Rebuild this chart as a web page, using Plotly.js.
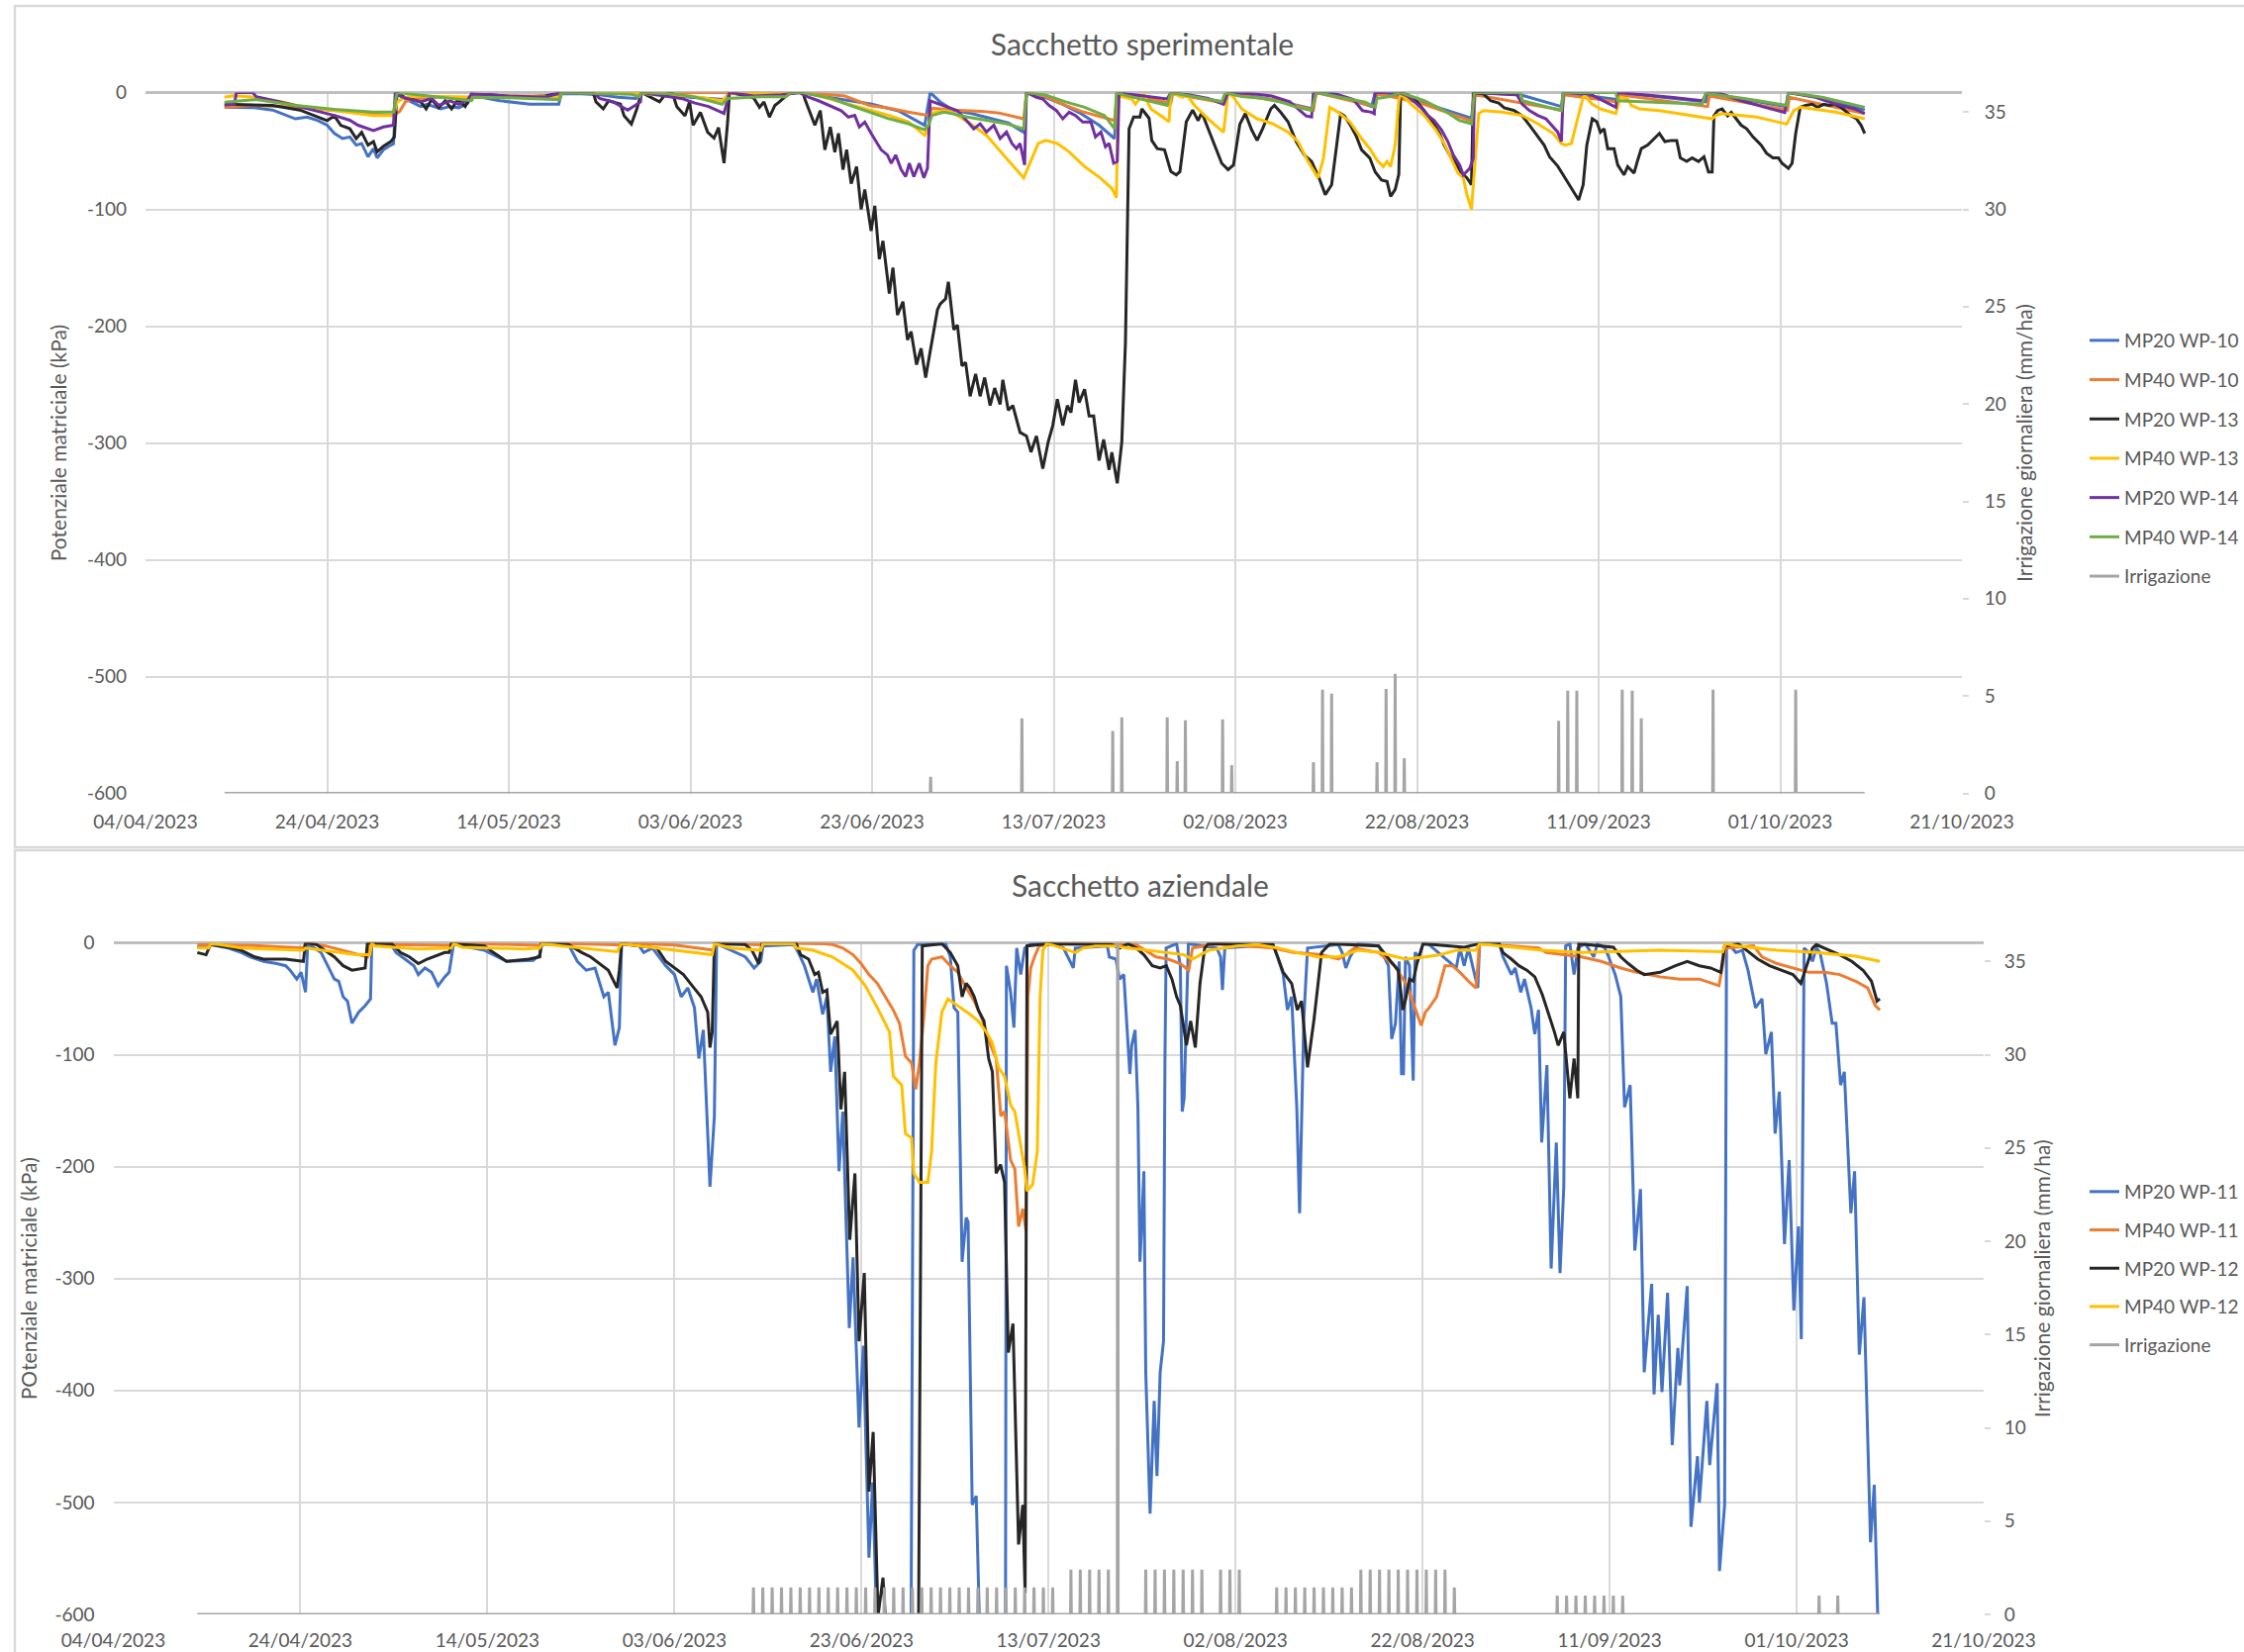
<!DOCTYPE html>
<html>
<head>
<meta charset="utf-8">
<script src="https://cdn.plot.ly/plotly-3.0.1.min.js"></script>
<style>
  html, body { margin: 0; padding: 0; background: #ffffff; }
  #grafico { width: 2267px; height: 1669px; }
</style>
</head>
<body>
<div id="grafico"></div>
<script>
// Tempi espressi in giorni (anche frazionari) a partire dal 04/04/2023 00:00.
// Ogni punto: [giorni, potenziale matriciale kPa].

// ---------------- Sacchetto sperimentale ----------------
const sperim_MP20_WP10 = [[8.7,-12.5],[12,-13],[14,-15],[16.5,-22.5],[17.8,-21],[19,-24],[20,-28],[20.8,-35],[21.7,-39.4],[22.5,-38],[23.2,-45],[23.8,-43.6],[24.5,-55],[25.1,-48],[25.5,-56],[26.2,-49],[26.8,-46],[27.3,-44],[27.6,-1],[28.5,-5],[30.3,-12],[31,-10],[32.5,-14],[33.5,-12],[34.5,-13],[35.5,-9],[35.9,-1],[37,-4],[39,-7],[42.3,-10],[45.5,-10],[45.8,-1],[48,-1],[50,-2],[52,-4],[54,-5],[54.6,0],[57,-2],[60,-4],[63.7,-6],[64.3,0],[67,-3],[70,-2],[72,0],[73,-1],[76,-5],[80,-10],[83,-16],[85.8,-28],[86.4,0],[87.5,-8],[89,-15.4],[91,-18],[93,-22],[95,-26],[96.7,-34],[97,0],[99,-4],[101,-10],[103,-18],[105,-28],[106.7,-39.4],[107,0],[109,-3],[112.5,-10],[112.9,0],[118.7,-8],[119.2,0],[124,-6],[128.5,-14],[128.9,0],[132,-4],[135,-12],[135.4,0],[138,-3],[142,-12],[146,-22],[146.3,0],[151.4,-2],[155.9,-12],[156.1,0],[162,-6],[162.2,0],[167,-4],[171.8,-8],[172,0],[176,-6],[180.7,-12],[180.9,0],[185,-5],[189.3,-15]];

const sperim_MP40_WP10 = [[8.7,-12.6],[12,-11],[16.5,-12.6],[20.8,-15.4],[25.1,-18],[27.3,-19.6],[28,-16],[28.6,-8],[29.4,-5.5],[32,-4],[35.9,-4],[36.2,-3],[40,-3],[45.6,-3],[45.8,0],[72,0],[74,-1],[77,-3],[79.7,-11],[82,-13.5],[84,-16.8],[86.2,-19.6],[86.6,-13.5],[89,-15],[92,-16],[94,-17.5],[96.7,-22.5],[97,0],[99,-3],[101,-10],[103,-16],[105,-20],[106.7,-24],[107,0],[110,-4],[112.9,-9],[113.1,-1],[118.8,-9],[119.1,-1],[124,-6],[128.6,-15],[128.9,0],[135.4,-12],[135.6,-1],[140,-8],[146.2,-25],[146.4,-2],[156,-15],[156.2,-2],[162,-8],[162.3,-2],[172,-12],[172.2,-3],[180.8,-15],[181,-4],[189.3,-18]];

const sperim_MP20_WP13 = [[8.7,-10],[14,-11],[17,-15],[20,-24],[20.8,-20],[21.5,-28],[22.5,-31],[23.2,-39.4],[23.8,-34],[24.5,-45],[25.1,-42],[25.5,-50.7],[26.2,-46],[27,-42],[27.4,-38],[27.7,0],[28.5,-4],[30.3,-8],[30.9,-14],[31.5,-6],[32.3,-13],[33,-7],[33.7,-14],[34.4,-6],[35.2,-12],[35.9,-2],[38,-2],[41,-4],[44,-3],[45.8,0],[49.3,0],[49.6,-8],[50.4,-14],[51,-7],[52.3,-10],[52.7,-20],[53.5,-27],[54.1,-14],[54.6,0],[56.6,-8],[57.2,-2],[58,0],[58.5,-12],[59.4,-20],[59.9,-8],[60.3,-28],[61.1,-17],[61.9,-34],[62.6,-39],[63.1,-30],[63.7,-60.5],[64.1,-25],[64.3,0],[66.4,-3],[67,-5],[67.6,-12.6],[68.1,-8],[68.7,-21],[69.3,-11],[69.8,-8],[70.5,-3],[71,0],[72.4,0],[72.6,-5.5],[73.7,-28],[74.3,-15.4],[74.8,-49],[75.4,-29.5],[75.9,-51],[76.3,-35],[76.8,-66],[77.2,-49],[77.7,-78],[78.3,-63.4],[78.8,-100],[79.2,-83],[79.9,-118.5],[80.3,-97],[80.8,-142.6],[81.2,-127],[81.9,-172],[82.3,-150],[82.8,-190.5],[83.4,-179],[83.9,-211.7],[84.3,-204.7],[84.9,-233],[85.4,-219],[85.9,-244],[87.2,-186],[87.5,-181],[88.1,-176.5],[88.4,-162],[89,-203],[89.4,-199],[89.9,-234],[90.3,-231],[90.8,-260],[91.4,-241],[91.9,-260],[92.4,-244],[93,-268],[93.5,-253],[94.1,-267],[94.4,-246],[95,-272],[95.5,-268],[96.3,-291],[97,-294],[97.5,-307.8],[98.1,-294],[98.8,-322],[99.4,-299],[99.9,-285],[100.4,-262.6],[101,-285],[101.5,-268],[101.9,-274],[102.4,-246],[102.8,-265.4],[103.4,-254],[103.9,-277],[104.4,-277],[105,-315],[105.5,-297],[106.1,-323],[106.4,-308],[107,-334.6],[107.5,-299],[107.9,-214],[108.3,-31],[108.8,-21],[109.5,-21],[109.7,-14],[110.5,-22],[110.8,-41],[111.4,-48],[112.2,-49],[112.9,-67.7],[113.5,-70.5],[113.9,-67.7],[114.6,-25],[115.3,-15],[115.9,-24],[116.3,-17],[117.2,-35],[117.9,-49],[118.5,-60.6],[119.2,-66],[119.8,-62],[120.5,-27],[121.1,-18],[121.8,-32],[122.4,-41],[123,-31],[123.9,-14],[124.3,-11],[125,-17],[125.8,-25],[126.7,-42],[127.6,-53.5],[128.4,-59],[129.3,-74.7],[129.9,-87.4],[130.6,-79],[131.2,-42],[131.6,-18],[132,-20],[132.6,-27],[133.3,-37],[133.9,-49],[134.8,-56],[135.4,-68],[136.1,-75],[136.7,-76],[137.1,-89],[137.6,-83],[138,-70],[138.2,0],[139,-2],[140,-8],[140.8,-15.4],[141.7,-25],[142.5,-35],[143,-45],[143.6,-53.5],[144.3,-60.6],[144.9,-69],[145.5,-73],[146,-79],[146.2,0],[147.3,-1],[147.7,-4],[148.1,-7],[149,-9],[149.6,-13],[150.7,-15.4],[151.6,-20],[152.4,-28],[153.3,-38],[154,-45],[154.6,-55],[155.5,-63],[156.1,-70.5],[156.8,-79],[157.4,-86],[157.8,-92],[158.3,-79],[158.7,-45],[159.3,-22.5],[159.8,-25],[160.2,-34],[160.6,-31],[161,-48],[161.7,-48],[162.1,-62],[162.8,-70.5],[163.2,-63.4],[163.9,-69],[164.3,-58],[164.7,-48],[165.4,-45],[165.8,-42],[166.7,-35],[167.3,-42],[168,-41],[168.6,-41],[169,-56],[169.7,-59],[170.3,-56],[171,-59],[171.6,-55],[172.1,-68],[172.5,-68],[172.7,-20],[173.1,-15.4],[173.6,-14],[174.2,-20],[174.6,-17],[175,-21],[175.7,-28],[176.3,-31],[177,-38],[177.9,-45],[178.5,-52],[179.2,-56],[179.8,-56],[180.2,-60.6],[180.9,-65],[181.3,-60.6],[181.7,-35],[182.2,-12.6],[182.8,-11],[183.5,-10],[184.1,-12.6],[184.8,-10],[185.4,-11],[186,-10],[186.7,-12.6],[187.1,-15.4],[187.8,-20],[188.4,-22.5],[188.9,-28],[189.3,-35]];

const sperim_MP40_WP13 = [[8.7,-4],[9.6,-2.7],[12.2,-4],[15.2,-8.3],[16.5,-11],[20.8,-15.4],[25.1,-19.6],[27.3,-19.6],[27.7,-8.3],[28.5,-4],[30,-3],[35.9,-4],[40,-3],[45.6,-4],[45.8,0],[54,0],[56,-2],[60,-3],[63.5,-7],[64.3,-1],[72,0],[73.3,-1],[77.6,-10],[81.9,-19.6],[84,-25],[85.8,-36.6],[86.2,-31],[86.4,-18],[87.9,-15.4],[88.8,-16.8],[90.5,-25],[92.6,-36.6],[94.8,-56.4],[96.7,-73],[97.4,-60],[98.3,-43.6],[99.1,-41],[100.4,-43.6],[101.7,-50.7],[103.4,-63.4],[105.1,-73],[106.4,-82],[106.9,-90],[107.1,-2.7],[108.6,-5.5],[109,-10],[109.9,-1.3],[110.7,-14],[112,-21],[112.7,-25],[112.9,0],[114.2,-4],[114.6,-1.3],[115.5,-11],[117.2,-24],[118.7,-34],[119.2,0],[119.8,-4],[120.7,-14],[122.4,-22.5],[124.1,-26.7],[125.8,-33.8],[126.9,-42],[128,-59],[129.1,-73],[129.7,-56.4],[130.4,-12.6],[131.3,-16.8],[132.6,-25],[133.9,-39.4],[134.8,-48],[135.6,-57.8],[136.3,-63.4],[136.7,-59],[137.1,-63.4],[137.6,-45],[138,-7],[138.2,-1.3],[138.6,-4],[139.5,-11],[140.8,-19.6],[142.1,-32.3],[143,-43.6],[143.8,-56.4],[144.5,-69],[145.1,-73],[145.5,-87.4],[146,-100],[146.4,-62],[146.8,-18],[147.3,-15.4],[149.4,-16.8],[151.6,-19.6],[153.3,-26.7],[155,-35],[155.9,-43.6],[156.3,-45],[157,-43.6],[157.6,-25],[158.3,-4],[158.5,-2.7],[159.3,-10],[160.2,-14],[161.9,-18],[162.4,-4],[163.2,-5.5],[163.6,-11],[164.5,-14],[166.7,-15.4],[168.8,-18],[171,-21],[172.5,-22.5],[172.9,-19.6],[173.6,-18],[177.4,-21],[180.7,-27],[181.5,-15.4],[182.2,-12.6],[186.1,-16.8],[189.3,-22.5]];

const sperim_MP20_WP14 = [[8.7,-10.6],[9.8,-10],[10,0],[11.8,0],[12.2,-3.5],[16.5,-11],[18.6,-15.4],[20.8,-19.6],[22.5,-23.7],[23.4,-28],[25.1,-32.5],[26.2,-29.5],[27.3,-28],[27.5,0],[28.3,-4],[30.3,-8],[31.5,-5],[32.3,-11],[33.5,-7],[34.5,-10],[35.5,-6],[35.9,-1],[40,-3],[44,-4],[45.8,0],[49.3,0],[50,-5],[51.5,-8],[53.1,-15],[54.5,-8],[54.6,0],[57,-3],[59,-5],[60.5,-9],[62,-12],[63.7,-18],[64.3,0],[67,-3],[70,-2],[72,0],[73,-4],[74.1,-7],[75.2,-11],[76.6,-15.5],[77.4,-21],[78.1,-19.6],[78.6,-29.5],[79.2,-25.3],[79.9,-35],[80.4,-41],[81,-49],[81.7,-53.5],[82.1,-60.6],[82.6,-53.5],[83.2,-66],[83.7,-72],[84.1,-60.6],[84.6,-72],[85.2,-60.6],[85.7,-73],[86.1,-64.8],[86.4,-7],[88.3,-12.6],[89.4,-15.5],[90.4,-23.9],[91.2,-31],[91.9,-26.7],[92.6,-33.8],[93.4,-28],[94.1,-39.4],[94.8,-33.8],[95.4,-43.6],[95.9,-48],[96.3,-43.6],[96.8,-62],[97,0],[98.1,-4],[98.8,-5.5],[99.5,-11],[100.3,-15.4],[101,-22.5],[101.7,-16.8],[102.4,-19.6],[103.2,-25.3],[104.1,-25.3],[104.6,-38],[105.2,-33.8],[105.7,-46.5],[106.1,-43.6],[106.6,-60.5],[107,-59],[107.2,0],[108,-1],[110,-3],[112.5,-5.5],[112.9,0],[115,-2],[117,-5],[118.7,-10],[119.2,0],[122,-1],[124,-3],[126,-8],[127.8,-20],[128.4,-21],[128.6,0],[131,-1],[133,-6],[134,-15.5],[135,-16.8],[135.3,-18],[135.4,0],[138,0],[139,-3],[140.4,-12.6],[141.2,-19.6],[141.9,-24],[142.7,-32],[143.4,-42],[144,-53.5],[144.7,-62],[145.1,-70.5],[145.8,-65],[146.2,-56.4],[146.3,0],[151,-2],[151.6,-10],[152.4,-15.5],[153.3,-19.6],[154.2,-22.5],[154.8,-28],[155.5,-33.8],[155.9,-42],[156.1,0],[159,-1],[161.9,-12.6],[162.1,0],[165,-2],[168,-4],[171.4,-7],[172,0],[173.1,0],[175.7,-7],[178.3,-12.6],[180.5,-17],[180.9,0],[183.9,-4],[186.1,-10],[188.2,-14],[189.3,-18]];

const sperim_MP40_WP14 = [[8.7,-8.3],[12.2,-6],[16.5,-11],[20.8,-14.4],[25.1,-16.8],[27.3,-16.8],[27.7,0],[30,-2],[33.7,-4.8],[35.9,-7],[36.1,-4],[40,-4.5],[45.6,-6],[45.7,0],[53.5,-1.5],[54.4,-3.5],[54.6,0],[58,-1],[60.3,-3.5],[63.5,-10],[64.1,-5],[66,-4],[68,-3.5],[70.5,-3.5],[71.1,0],[72.4,0],[75.4,-4.8],[77.6,-11],[79.7,-16.8],[81.9,-22.5],[84,-26.7],[85.8,-32],[86.2,-28],[86.6,-19.6],[87.9,-16.8],[88.8,-18],[90.5,-21],[92.6,-24],[94.8,-26.7],[96.7,-31],[97,0],[99.1,-2],[101.3,-8],[103.4,-12.6],[105.6,-19.6],[106.7,-31],[106.9,0],[107.7,-2],[109.9,-6.4],[112.5,-11],[112.9,0],[118.5,-7.9],[118.9,0],[120.7,-3.5],[122.8,-4.8],[124.9,-7.9],[126.6,-12.2],[128.4,-15.5],[128.9,0],[132.6,-5.5],[134.3,-8.3],[135.4,-12.6],[135.6,-5],[137,-3.5],[138.2,0],[140.8,-7],[143,-15.5],[144.7,-24],[146,-26.7],[146.3,0],[151.4,0],[151.6,-7],[153.7,-11],[155.9,-15.5],[156.1,0],[161.9,0],[162.1,-7],[166.7,-8.3],[171.4,-10],[171.8,0],[172.2,-1],[176,-5],[180.7,-11],[180.9,0],[184.6,-4],[189.3,-12.6]];

// Irrigazione (mm/ha): periodo registrato, giorni di intervento e quantità
const sperim_periodo = [8.7, 189.3];
const sperim_irrig_giorni = [86.45,96.5,106.5,107.5,112.5,113.6,114.5,118.6,119.6,128.6,129.6,130.6,135.6,136.6,137.6,138.6,155.6,156.6,157.6,162.6,163.7,164.7,172.6,181.7];
const sperim_irrig_mm     = [0.85,3.85,3.2,3.9,3.9,1.65,3.75,3.8,1.45,1.6,5.33,5.12,1.6,5.36,6.14,1.8,3.72,5.28,5.28,5.33,5.28,3.85,5.33,5.33];

// ---------------- Sacchetto aziendale ----------------
const azienda_MP20_WP11 = [[8.98,-3.9],[10.39,-1.6],[12.28,-4.7],[13.7,-8.7],[14.65,-12.6],[16.06,-16.6],[17.48,-18.6],[18.43,-20.5],[18.9,-24.5],[19.61,-32.4],[20.08,-26.4],[20.55,-44.2],[20.79,-0.8],[22.21,-8.7],[22.92,-20.5],[23.63,-32.4],[24.1,-34.3],[24.57,-48.2],[25.04,-52.1],[25.52,-71.8],[26.23,-62],[26.93,-56.1],[27.5,-50.1],[27.64,-0.8],[29.77,-2.8],[30.24,-8.7],[31.19,-14.6],[32.14,-20.5],[32.61,-28.4],[33.32,-22.5],[34.03,-26.4],[34.73,-38.3],[35.44,-30.4],[35.91,-26.4],[36.39,-0.8],[37.33,-2.8],[39.69,-6.7],[40.17,-8.7],[42.06,-16.6],[44.89,-15.8],[45.6,-10.7],[45.84,-0.8],[48.67,-1.6],[49.62,-16.6],[50.56,-24.5],[51.51,-22.5],[52.45,-48.2],[52.93,-44.2],[53.64,-91.6],[54.11,-75.8],[54.35,-0.8],[56.23,-2.8],[56.71,-8.7],[57.65,-4.7],[59.07,-20.5],[60.01,-28.4],[60.72,-48.2],[61.43,-40.3],[62.14,-58],[62.61,-103.4],[63.09,-77.8],[63.8,-218],[64.27,-155],[64.51,-0.8],[67.58,-12.6],[68.52,-22.5],[69.23,-16.6],[69.47,-2.8],[72.77,-1.6],[73.25,-8.7],[73.9,-20.5],[74.8,-44.2],[75.2,-32.4],[75.85,-63.9],[76.3,-48.2],[76.7,-115.3],[77.15,-83.7],[77.6,-204.1],[78.0,-150.8],[78.7,-344.2],[79.1,-281],[79.74,-433],[80.2,-360],[80.8,-549.4],[81.2,-482],[81.6,-601.6],[83.5,-660],[85.3,-620],[85.6,-6.7],[86.0,-1.6],[89.0,-0.8],[89.5,-12.6],[89.9,-58],[90.3,-62],[90.55,-172.5],[90.76,-285],[91.2,-245.5],[91.4,-249.5],[91.84,-502.1],[92.27,-494.2],[92.6,-601.6],[94,-660],[95.4,-620],[95.5,-20.5],[95.95,-44.2],[96.3,-75.8],[96.6,-4.7],[97.03,-28.4],[97.46,-4.7],[98.1,-0.8],[100.3,-0.8],[101.6,-4.7],[102.65,-22.5],[102.86,-4.7],[106.3,-2.8],[106.5,-12.6],[107.2,-14.6],[107.6,-32.4],[108.05,-28.4],[108.7,-117.2],[108.9,-91.6],[109.26,-77.8],[109.56,-147],[109.78,-285],[110.0,-245.5],[110.2,-204.1],[110.4,-383.7],[110.86,-510],[111.3,-409.3],[111.6,-476.4],[111.94,-383.7],[112.3,-356],[112.45,-107.4],[112.58,-4.7],[113.7,-0.8],[114.1,-20.5],[114.3,-150.8],[114.5,-139],[114.96,-0.8],[118.0,-4.7],[118.4,-12.6],[118.6,-42.2],[118.85,-4.7],[124.0,-1.6],[124.5,-12.6],[125.1,-28.4],[125.55,-60],[126.0,-48.2],[126.55,-147],[126.85,-241.6],[127.3,-67.9],[127.7,-4.7],[131.0,-1.6],[131.4,-8.7],[131.8,-22.5],[132.25,-12.6],[133.1,-0.8],[135.3,-2.8],[136.35,-20.5],[136.7,-86],[137.1,-72],[137.5,-16.6],[137.75,-117],[137.96,-117],[138.17,-12.6],[138.6,-20.5],[139.0,-123.2],[139.2,-8.7],[139.6,-12.6],[140.06,-0.8],[140.7,-1.6],[143.6,-22.5],[144.0,-4.7],[144.45,-20.5],[144.9,-4.7],[145.9,-40.3],[146.1,-0.8],[148.2,-0.8],[148.6,-12.6],[149.5,-28.4],[149.9,-22.5],[150.5,-44.2],[150.9,-32.4],[151.6,-58],[152.0,-81.7],[152.4,-60],[152.74,-178.4],[153.3,-109.3],[153.75,-291],[154.3,-178.4],[154.7,-295],[155.1,-218],[155.3,-2.8],[155.75,-0.8],[156.2,-28.4],[156.6,-4.7],[157.4,-0.8],[158.3,-12.6],[158.7,-0.8],[159.5,-4.7],[159.9,-12.6],[160.6,-28.4],[161.2,-48.2],[161.6,-147],[162.2,-127.1],[162.7,-275],[163.3,-220],[163.7,-383.7],[164.5,-304.7],[164.75,-403.4],[165.2,-332.4],[165.6,-401.4],[166.2,-312.6],[166.7,-448.8],[167.3,-362],[167.5,-395.5],[168.3,-306.7],[168.7,-521.8],[169.4,-458.7],[169.6,-500.1],[170.4,-409.3],[170.7,-466.6],[171.5,-393.5],[171.75,-561.3],[172.3,-502.1],[172.5,-4.7],[172.9,-2.8],[173.5,-8.7],[174.2,-6.7],[174.8,-24.5],[175.6,-58],[176.3,-50.1],[176.7,-99.5],[177.3,-79.7],[177.7,-170.5],[178.15,-133],[178.7,-269.2],[179.2,-194.2],[179.7,-328.4],[180.2,-253.4],[180.5,-354.1],[180.8,-4.7],[181.3,-8.7],[181.7,-16.6],[182.1,-4.7],[182.5,-8.7],[183.2,-36.3],[183.8,-71.8],[184.2,-71.8],[184.7,-127.1],[185.1,-115.3],[185.8,-241.6],[186.2,-204.1],[186.7,-367.9],[187.2,-316.6],[187.9,-535.6],[188.3,-484.3],[188.7,-610]];

const azienda_MP40_WP11 = [[8.98,-1.6],[15,-2.5],[20.32,-4.7],[20.55,0],[22.68,-2.8],[24.57,-6.7],[27.17,-12.6],[27.3,0],[30,-1.5],[36,-2.5],[36.2,0],[45.7,-2.5],[45.8,0],[54.3,-2],[54.4,0],[60,-2],[64.27,-6.7],[64.4,0],[69.4,-2],[69.5,0],[76.07,-0.8],[76.9,-1.6],[78.0,-4.7],[79.1,-10.7],[79.96,-18.6],[80.8,-28.4],[81.7,-36.3],[82.55,-48.2],[83.4,-60],[84.06,-71.8],[84.7,-101.4],[85.36,-107.4],[85.8,-131],[86.2,-107.4],[86.65,-67.9],[87.1,-20.5],[87.5,-14.6],[88.6,-12.6],[89.5,-20.5],[90.3,-26.4],[91.2,-40.3],[92.06,-52.1],[92.9,-67.9],[93.8,-91.6],[94.4,-103.4],[94.9,-154.7],[95.3,-150.8],[95.95,-194.2],[96.4,-202.1],[96.8,-253.4],[97.25,-237.6],[97.6,-257.4],[97.8,-48.2],[98.1,-22.5],[98.5,-12.6],[99.0,-2.8],[100.7,-0.8],[109.35,-1.6],[111.5,-12.6],[112.8,-14.6],[114.1,-18.6],[115.0,-24.5],[115.4,-4.7],[118.0,-0.8],[124.0,-4.7],[126.2,-8.7],[129.2,-10.7],[131.0,-14.6],[131.8,-10.7],[132.7,-4.7],[135.3,-8.7],[137.0,-20.5],[138.2,-36.3],[138.6,-44.2],[139.85,-73.8],[140.3,-62],[140.7,-58],[141.5,-48.2],[142.4,-20.5],[143.2,-20.5],[144.0,-26.4],[144.9,-34.3],[145.7,-40.3],[146.1,-0.8],[152.4,-4.7],[153.2,-8.7],[154.9,-10.7],[157.0,-12.6],[159.1,-16.6],[161.2,-22.5],[162.9,-26.4],[165.4,-30.4],[167.5,-32.4],[169.6,-32.4],[171.7,-38.3],[172.4,-4.7],[175.4,-2.8],[176.3,-12.6],[177.9,-18.6],[179.6,-22.5],[181.3,-26.4],[183.0,-26.4],[184.6,-28.4],[186.3,-34.3],[187.6,-40.3],[188.4,-56.1],[188.9,-60]];

const azienda_MP20_WP12 = [[8.98,-8.7],[9.92,-10.7],[10.39,-1.6],[12.28,-3.9],[13.7,-6.7],[15.12,-12.6],[16.06,-14.6],[18.43,-14.6],[20.32,-16.6],[20.55,0],[21.74,-1.6],[22.68,-6.7],[23.63,-12.6],[24.57,-20.5],[25.52,-24.5],[26.93,-22.5],[27.17,0],[29.77,-0.8],[30.71,-8.7],[31.66,-12.6],[32.61,-18.6],[33.55,-14.6],[35.44,-8.7],[35.91,-8.7],[36.15,-0.8],[39.69,-2.8],[40.64,-8.7],[42.06,-16.6],[44.42,-14.6],[45.6,-12.6],[45.74,-0.8],[48.67,-1.6],[50.09,-8.7],[51.04,-12.6],[51.98,-18.6],[52.93,-24.5],[53.87,-40.3],[54.11,-24.5],[54.35,-0.8],[58.12,-4.7],[59.07,-16.6],[60.01,-22.5],[60.96,-28.4],[61.9,-38.3],[62.85,-48.2],[63.56,-62],[63.8,-93.6],[64.04,-79.7],[64.27,-0.8],[67.58,-1.6],[68.29,-6.7],[69,-18.6],[69.37,-0.8],[73.04,-0.8],[73.5,-10.7],[74.34,-14.6],[75.0,-28.4],[75.4,-26.4],[75.85,-44.2],[76.3,-42.2],[76.7,-81.7],[77.4,-69.9],[77.8,-148.8],[78.2,-115.3],[78.75,-265.3],[79.3,-206],[79.74,-356],[80.3,-295],[80.8,-490.3],[81.25,-437],[81.77,-601.6],[82.3,-567.2],[82.55,-601.6],[84,-660],[86.1,-620],[86.5,-2.8],[88.6,-0.8],[89.5,-8.7],[90.3,-20.5],[90.76,-48.2],[91.2,-36.3],[91.6,-40.3],[92.06,-48.2],[92.5,-60],[93.1,-69.9],[93.6,-103.4],[94.0,-115.3],[94.4,-206],[94.87,-198.2],[95.3,-214],[95.7,-366],[96.2,-340.3],[96.8,-537.6],[97.25,-502.1],[97.5,-581],[97.7,-2.8],[99.8,-0.8],[106.75,-1.6],[107.6,-4.7],[108.5,-0.8],[109.4,-4.7],[110.2,-10.7],[111.1,-20.5],[111.95,-22.5],[112.6,-20.5],[113.2,-32.4],[113.7,-48.2],[114.1,-56.1],[114.75,-91.6],[115.2,-69.9],[115.7,-93.6],[116.2,-36.3],[116.7,-4.7],[117.1,-0.8],[124.0,-1.6],[124.5,-12.6],[125.1,-26.4],[126.0,-36.3],[126.6,-60],[127.06,-52.1],[127.7,-111.3],[128.4,-67.9],[128.8,-40.3],[129.2,-8.7],[130.1,-0.8],[135.3,-2.8],[136.6,-16.6],[137.4,-24.5],[137.9,-60],[138.2,-50.1],[138.6,-32.4],[139.0,-34.3],[139.4,-18.6],[140.06,-0.8],[144.45,-3.9],[146.1,-0.8],[148.2,-0.8],[148.6,-8.7],[149.5,-14.6],[150.3,-20.5],[151.15,-24.5],[152.0,-30.4],[152.8,-46.2],[153.66,-67.9],[154.1,-79.7],[154.5,-91.6],[155.1,-79.7],[155.75,-139],[156.2,-103.4],[156.6,-139],[156.7,-0.8],[160.4,-3.9],[161.2,-12.6],[162.0,-18.6],[162.9,-24.5],[163.7,-28.4],[165.4,-26.4],[167.05,-20.5],[168.3,-16.6],[169.6,-20.5],[170.8,-22.5],[171.9,-26.4],[172.3,-2.8],[173.75,-0.8],[174.6,-6.7],[175.85,-14.6],[177.1,-20.5],[178.35,-24.5],[179.6,-28.4],[180.45,-36.3],[181.1,-20.5],[181.7,-4.7],[182.1,-1.6],[183.4,-6.7],[184.6,-10.7],[185.9,-16.6],[187.1,-24.5],[188.0,-34.3],[188.6,-52.1],[188.9,-50.1]];

const azienda_MP40_WP12 = [[8.98,-4.7],[10.2,-4.7],[10.39,-0.8],[11.34,-1.6],[13.7,-4.7],[16.06,-5.5],[20.32,-6.7],[20.55,-4.7],[22.21,-6.7],[24.1,-8.7],[25.99,-10.7],[27.41,-10.7],[27.64,-0.8],[28,-2.8],[32.61,-5.5],[36.15,-4.7],[36.39,-0.8],[37.33,-3.9],[44,-5.5],[45.6,-4.7],[45.84,-0.8],[48,-2.8],[53.87,-7.9],[54.35,-0.8],[56.23,-2.8],[60,-6.7],[64.04,-10.7],[64.27,-0.8],[66,-4.7],[69.23,-6.7],[69.47,-0.8],[72.77,-0.8],[73.04,-4.7],[74.8,-6.7],[76.9,-12.6],[79.1,-24.5],[80.4,-38.3],[81.7,-58],[83.0,-79.7],[83.4,-119.2],[84.3,-127.1],[84.7,-170.5],[85.36,-174.5],[85.6,-206],[86.2,-214],[87.1,-214],[87.5,-186.3],[87.95,-107.4],[88.6,-62],[89.25,-50.1],[90.3,-56.1],[91.6,-63.9],[92.5,-69.9],[93.35,-79.7],[94.0,-89.6],[94.65,-111.3],[95.3,-119.2],[95.95,-145],[96.4,-150.8],[97.03,-182.4],[97.46,-202.1],[97.7,-221.8],[98.3,-216],[98.8,-186.3],[99.1,-48.2],[99.4,-6.7],[99.8,-0.8],[100.7,-2.8],[102.9,-8.7],[103.7,-4.7],[105.0,-2.8],[107.2,-2.8],[108.5,-4.7],[110.6,-6.7],[112.8,-8.7],[114.5,-10.7],[115.4,-14.6],[116.3,-10.7],[117.1,-6.7],[118.8,-4.7],[120.1,-2.8],[122.3,-1.6],[124.5,-4.7],[126.6,-8.7],[128.8,-12.6],[131.0,-12.6],[133.1,-6.7],[135.3,-8.7],[137.4,-12.6],[138.2,-14.6],[140.3,-12.6],[141.9,-10.7],[143.6,-6.7],[145.7,-6.7],[146.1,-0.8],[148.6,-2.8],[152.8,-6.7],[157.0,-8.7],[161.2,-7.9],[165.4,-6.7],[172.1,-7.9],[172.4,-0.8],[173.75,-2.8],[177.9,-6.7],[182.1,-8.7],[186.3,-11.9],[188.9,-16.6]];

const azienda_periodo = [8.98, 188.9];
const azienda_irrig_giorni = [68.45,69.45,70.45,71.45,72.45,73.45,74.45,75.45,76.45,77.45,78.45,79.45,80.45,81.45,82.45,83.45,84.45,85.45,86.45,87.45,88.45,89.45,90.45,91.45,92.45,93.45,94.45,95.45,96.45,97.45,98.45,99.45,100.45,
  102.4,103.4,104.4,105.4,106.4,107.4,110.4,111.4,112.4,113.4,114.4,115.4,116.4,118.4,119.4,120.4,
  124.4,125.4,126.4,127.4,128.4,129.4,130.4,131.4,132.4,
  133.4,134.4,135.4,136.4,137.4,138.4,139.4,140.4,141.4,142.4,143.4,
  154.4,155.4,156.4,157.4,158.4,159.4,160.4,161.4,182.4,184.4];
const azienda_irrig_mm = [1.45,1.45,1.45,1.45,1.45,1.45,1.45,1.45,1.45,1.45,1.45,1.45,1.45,1.45,1.45,1.45,1.45,1.45,1.45,1.45,1.45,1.45,1.45,1.45,1.45,1.45,1.45,1.45,1.45,1.45,1.45,1.45,1.45,
  2.4,2.4,2.4,2.4,2.4,60,2.4,2.4,2.4,2.4,2.4,2.4,2.4,2.4,2.4,2.4,
  1.45,1.45,1.45,1.45,1.45,1.45,1.45,1.45,1.45,
  2.4,2.4,2.4,2.4,2.4,2.4,2.4,2.4,2.4,2.4,1.45,
  1.0,1.0,1.0,1.0,1.0,1.0,1.0,1.0,1.0,1.0];

// ---------------- Costruzione del grafico ----------------
const GIORNO = 86400000;
const ORA = 3600000;
const T0 = Date.UTC(2023, 3, 4);
const istante = g => T0 + g * GIORNO;

const W = 2267, H = 1669;
const fx = p => p / W;          // pixel orizzontale -> frazione della pagina
const fy = p => 1 - p / H;      // pixel verticale -> frazione della pagina

const FONT = 'Lato, "Open Sans", sans-serif';
const GRIGIO_TESTO = '#595959';
const GRIGIO_GRIGLIA = '#d9d9d9';

const COL = { blu: '#4472c4', arancio: '#ed7d31', nero: '#262626', giallo: '#ffc000', viola: '#7030a0', verde: '#70ad47', irrig: '#a5a5a5' };

let gruppo = 0;
function sensore(punti, nome, colore, xa, ya, leg) {
  gruppo++;
  return {
    type: 'scatter', mode: 'lines', name: nome,
    x: punti.map(p => istante(p[0])), y: punti.map(p => p[1]),
    line: { color: colore, width: 3 },
    xaxis: xa, yaxis: ya, legend: leg, legendgroup: 'g' + gruppo
  };
}

// Serie oraria dell'irrigazione: zero salvo l'ora dell'intervento
function irrigazione(periodo, giorni, mm, xa, ya, leg) {
  gruppo++;
  const x = [istante(periodo[0])], y = [0];
  giorni.forEach((g, i) => {
    const t = istante(g);
    x.push(t - ORA, t, t + ORA);
    y.push(0, mm[i], 0);
  });
  x.push(istante(periodo[1])); y.push(0);
  return {
    type: 'scatter', mode: 'lines', name: 'Irrigazione', x, y,
    line: { color: COL.irrig, width: 3 },
    xaxis: xa, yaxis: ya, legend: leg, legendgroup: 'g' + gruppo
  };
}

const traces = [
  sensore(sperim_MP20_WP10, 'MP20 WP-10', COL.blu, 'x', 'y', 'legend'),
  sensore(sperim_MP40_WP10, 'MP40 WP-10', COL.arancio, 'x', 'y', 'legend'),
  sensore(sperim_MP20_WP13, 'MP20 WP-13', COL.nero, 'x', 'y', 'legend'),
  sensore(sperim_MP40_WP13, 'MP40 WP-13', COL.giallo, 'x', 'y', 'legend'),
  sensore(sperim_MP20_WP14, 'MP20 WP-14', COL.viola, 'x', 'y', 'legend'),
  sensore(sperim_MP40_WP14, 'MP40 WP-14', COL.verde, 'x', 'y', 'legend'),
  irrigazione(sperim_periodo, sperim_irrig_giorni, sperim_irrig_mm, 'x', 'y2', 'legend'),
  sensore(azienda_MP20_WP11, 'MP20 WP-11', COL.blu, 'x2', 'y3', 'legend2'),
  sensore(azienda_MP40_WP11, 'MP40 WP-11', COL.arancio, 'x2', 'y3', 'legend2'),
  sensore(azienda_MP20_WP12, 'MP20 WP-12', COL.nero, 'x2', 'y3', 'legend2'),
  sensore(azienda_MP40_WP12, 'MP40 WP-12', COL.giallo, 'x2', 'y3', 'legend2'),
  irrigazione(azienda_periodo, azienda_irrig_giorni, azienda_irrig_mm, 'x2', 'y4', 'legend2')
];

const tickFont = { family: FONT, size: 19, color: GRIGIO_TESTO };
const titoloAsse = { family: FONT, size: 21, color: GRIGIO_TESTO };
const kpaVals = [-600, -500, -400, -300, -200, -100, 0];
const kpaText = ['-600', '-500', '-400', '-300', '-200', '-100', '0'];
const mmVals = [0, 5, 10, 15, 20, 25, 30, 35];

function asseDate(dominio, ancora, standoff) {
  return {
    domain: dominio, anchor: ancora, type: 'date',
    range: ['2023-04-04', '2023-10-21'],
    tick0: '2023-04-04', dtick: 20 * GIORNO, tickformat: '%d/%m/%Y',
    showgrid: true, gridcolor: GRIGIO_GRIGLIA, gridwidth: 2,
    zeroline: false, showline: false, ticks: '',
    ticklabelstandoff: standoff, tickfont: tickFont, automargin: false
  };
}
function asseKpa(dominio, ancora, titolo, standoff, labStand) {
  return {
    domain: dominio, anchor: ancora, range: [-600, 0],
    tickmode: 'array', tickvals: kpaVals, ticktext: kpaText,
    showgrid: true, gridcolor: GRIGIO_GRIGLIA, gridwidth: 2,
    // asse orizzontale che incrocia lo zero
    zeroline: true, zerolinecolor: '#bfbfbf', zerolinewidth: 3,
    showline: false, ticks: '', automargin: false,
    ticklabelstandoff: labStand, tickfont: tickFont,
    title: { text: titolo, font: titoloAsse, standoff: standoff }
  };
}
function asseMm(sovrapposto, ancora, standoff, labStand) {
  return {
    overlaying: sovrapposto, side: 'right', anchor: ancora, range: [0, 36],
    tickmode: 'array', tickvals: mmVals,
    showgrid: false, zeroline: false, showline: false, automargin: false,
    ticks: 'outside', ticklen: 6, tickwidth: 2, tickcolor: GRIGIO_GRIGLIA,
    ticklabelstandoff: labStand, tickfont: tickFont,
    title: { text: 'Irrigazione giornaliera (mm/ha)', font: titoloAsse, standoff: standoff }
  };
}

const legenda = (xLeft, yTop, gap) => ({
  x: fx(xLeft), xanchor: 'left', y: fy(yTop), yanchor: 'top',
  font: { family: FONT, size: 19, color: GRIGIO_TESTO },
  bgcolor: 'rgba(0,0,0,0)', borderwidth: 0,
  traceorder: 'grouped', tracegroupgap: gap
});

const layout = {
  width: W, height: H,
  margin: { l: 0, r: 0, t: 0, b: 0, autoexpand: false },
  paper_bgcolor: '#ffffff', plot_bgcolor: 'rgba(0,0,0,0)',
  font: { family: FONT, color: GRIGIO_TESTO },
  showlegend: true,
  hovermode: false,
  title: {
    text: 'Sacchetto sperimentale', x: fx(1154), xanchor: 'center',
    y: fy(45), yanchor: 'middle', font: { family: FONT, size: 30, color: GRIGIO_TESTO }
  },
  xaxis: asseDate([fx(147), fx(1982)], 'y', 15),
  yaxis: asseKpa([fy(801.5), fy(93.5)], 'x', 'Potenziale matriciale (kPa)', 14, 18),
  yaxis2: asseMm('y', 'x', 12, 12),
  xaxis2: asseDate([fx(114.5), fx(2004)], 'y3', 13),
  yaxis3: asseKpa([fy(1631), fy(952.5)], 'x2', 'POtenziale matriciale (kPa)', 12, 18),
  yaxis4: asseMm('y3', 'x2', 10, 10),
  legend: legenda(2106, 325, 12),
  legend2: legenda(2106, 1185, 11),
  annotations: [{
    text: 'Sacchetto aziendale', xref: 'paper', yref: 'paper',
    x: fx(1152), y: fy(893.5), xanchor: 'center', yanchor: 'middle', showarrow: false,
    font: { family: FONT, size: 30, color: GRIGIO_TESTO }
  }],
  shapes: [
    // cornici dei due riquadri
    { type: 'rect', xref: 'paper', yref: 'paper', x0: fx(15), x1: fx(2290), y0: fy(856), y1: fy(6), line: { color: GRIGIO_GRIGLIA, width: 2.5 }, fillcolor: 'rgba(0,0,0,0)' },
    { type: 'rect', xref: 'paper', yref: 'paper', x0: fx(15), x1: fx(2290), y0: fy(1700), y1: fy(859), line: { color: GRIGIO_GRIGLIA, width: 2.5 }, fillcolor: 'rgba(0,0,0,0)' }
  ]
};

Plotly.newPlot('grafico', traces, layout, { displayModeBar: false });
</script>
</body>
</html>
